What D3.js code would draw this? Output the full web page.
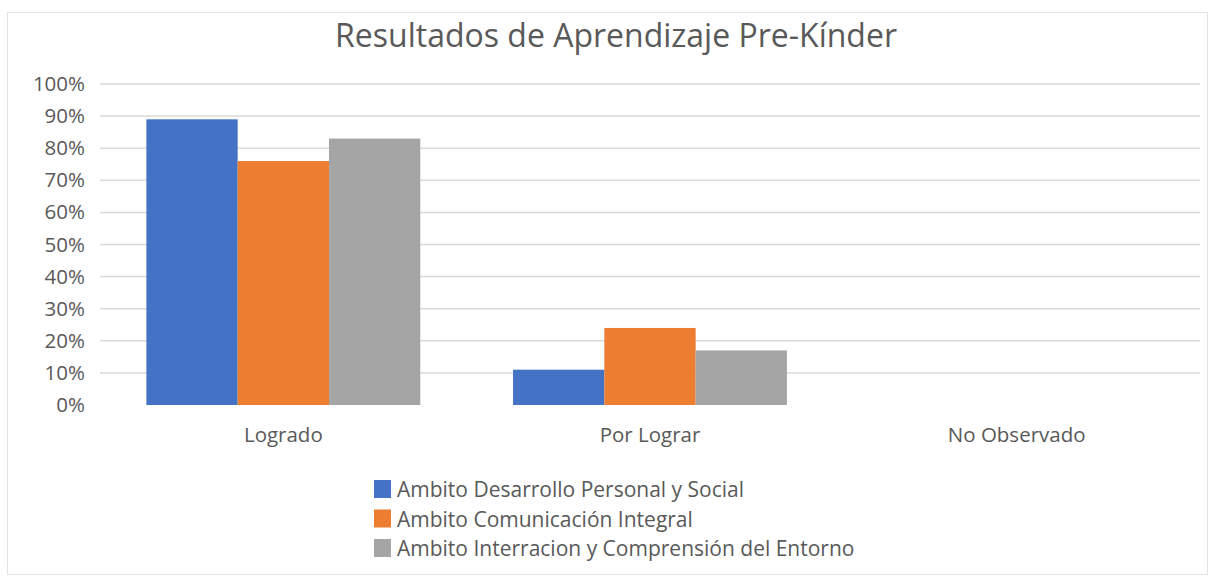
<!DOCTYPE html>
<html>
<head>
<meta charset="utf-8">
<script src="https://cdn.jsdelivr.net/npm/d3@7"></script>
<style>
  body { margin: 0; background: #fff; }
  text { font-family: "Open Sans", sans-serif; fill: #595959; }
</style>
</head>
<body>
<div id="chart"></div>
<script>
const categories = ["Logrado", "Por Lograr", "No Observado"];
const seriesNames = [
  "Ambito Desarrollo Personal y Social",
  "Ambito Comunicación Integral",
  "Ambito Interracion y Comprensión del Entorno"
];
const desarrollo = [0.89, 0.11, 0];
const comunicacion = [0.76, 0.24, 0];
const interaccion = [0.83, 0.17, 0];
const yTicks = [0, 0.1, 0.2, 0.3, 0.4, 0.5, 0.6, 0.7, 0.8, 0.9, 1];
const colors = ["#4472C4", "#ED7D31", "#A5A5A5"];

const W = 1215, H = 582;
const margin = { top: 84, left: 100 },
  width = 1200 - margin.left,
  height = 405 - margin.top;

const svg = d3.select("#chart")
  .append("svg")
  .attr("width", W)
  .attr("height", H);

// outer frame
svg.append("rect")
  .attr("x", 7.5).attr("y", 12.5)
  .attr("width", 1200).attr("height", 562)
  .attr("fill", "#fff")
  .attr("stroke", "#e3e3e3");

svg.append("text")
  .attr("x", 616).attr("y", 47)
  .attr("text-anchor", "middle")
  .style("font-size", "32px")
  .text("Resultados de Aprendizaje Pre-Kínder");

const g = svg.append("g")
  .attr("transform", `translate(${margin.left},${margin.top})`);

const x0 = d3.scaleBand()
  .domain(categories)
  .range([0, width])
  .paddingInner(0.253)
  .paddingOuter(0.1265);

const x1 = d3.scaleBand()
  .domain(seriesNames)
  .range([0, x0.bandwidth()]);

const y = d3.scaleLinear()
  .domain([0, 1])
  .range([height, 0]);

// gridlines
g.append("g")
  .selectAll("line")
  .data(yTicks.filter(d => d > 0))
  .join("line")
  .attr("x1", 0).attr("x2", width)
  .attr("y1", d => y(d)).attr("y2", d => y(d))
  .attr("stroke", "#d9d9d9")
  .attr("stroke-width", 1.5);

// Y axis labels
const yAxis = g.append("g")
  .call(d3.axisLeft(y).tickValues(yTicks).tickFormat(d3.format(".0%")).tickSize(0).tickPadding(15));
yAxis.select(".domain").remove();
yAxis.selectAll("text")
  .style("font-size", "20.5px")
  .attr("fill", "#595959");

// X axis labels
const xAxis = g.append("g")
  .attr("transform", `translate(0,${height})`)
  .call(d3.axisBottom(x0).tickSize(0).tickPadding(22));
xAxis.select(".domain").remove();
xAxis.selectAll("text")
  .style("font-size", "20.5px")
  .attr("fill", "#595959");

const table = categories.map((c, i) => ({
  cat: c,
  vals: [desarrollo[i], comunicacion[i], interaccion[i]]
}));

g.selectAll(".grp")
  .data(table)
  .join("g")
  .attr("class", "grp")
  .attr("transform", d => `translate(${x0(d.cat)},0)`)
  .selectAll("rect")
  .data(d => d.vals.map((v, j) => ({ name: seriesNames[j], v, j })))
  .join("rect")
  .attr("x", d => x1(d.name))
  .attr("y", d => y(d.v))
  .attr("width", x1.bandwidth())
  .attr("height", d => height - y(d.v))
  .attr("fill", d => colors[d.j]);

// legend
const legend = svg.append("g")
  .attr("transform", "translate(374,480)");
const items = legend.selectAll("g")
  .data(seriesNames)
  .join("g")
  .attr("transform", (d, i) => `translate(0,${i * 29.5})`);
items.append("rect")
  .attr("width", 17).attr("height", 18)
  .attr("fill", (d, i) => colors[i]);
items.append("text")
  .attr("x", 23).attr("y", 17)
  .style("font-size", "21px")
  .text(d => d);
</script>
</body>
</html>
